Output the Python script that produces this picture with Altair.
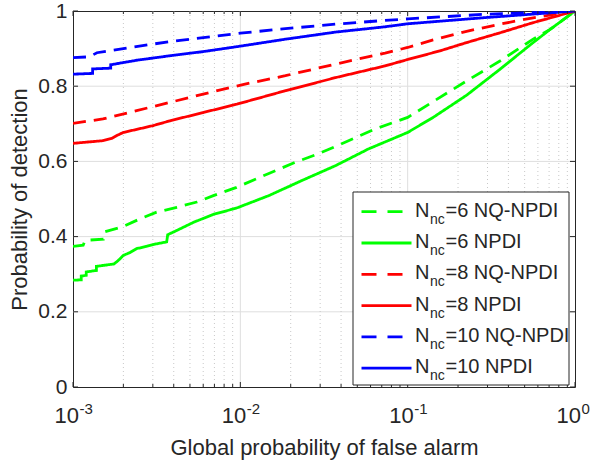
import altair as alt
import pandas as pd

# ---------------- data ----------------
series_names = ["Nnc=6 NQ-NPDI", "Nnc=6 NPDI", "Nnc=8 NQ-NPDI",
                "Nnc=8 NPDI", "Nnc=10 NQ-NPDI", "Nnc=10 NPDI"]
series_nums = ["6", "6", "8", "8", "10", "10"]
series_methods = ["NQ-NPDI", "NPDI", "NQ-NPDI", "NPDI", "NQ-NPDI", "NPDI"]
series_colors = ["#00ff00", "#00ff00", "#ff0000", "#ff0000", "#0000ff", "#0000ff"]
series_dashed = [True, False, True, False, True, False]

g6q_x = [0.001, 0.00115, 0.00118, 0.00152, 0.00155, 0.002, 0.00251, 0.00316, 0.00417,
         0.0055, 0.0069, 0.0095, 0.0148, 0.0214, 0.0292, 0.0423, 0.0638, 0.1, 0.142,
         0.225, 0.356, 0.562, 0.71, 1.0]
g6q_y = [0.374, 0.377, 0.390, 0.393, 0.413, 0.427, 0.447, 0.465, 0.478, 0.492, 0.509,
         0.531, 0.568, 0.598, 0.620, 0.651, 0.686, 0.717, 0.759, 0.814, 0.867, 0.925,
         0.951, 1.0]

g6_x = [0.001, 0.00112, 0.00112, 0.0012, 0.0012, 0.00138, 0.00138, 0.00175, 0.00185,
        0.002, 0.0022, 0.0024, 0.00275, 0.0031, 0.00363, 0.00368, 0.00425, 0.00525,
        0.0069, 0.0095, 0.0148, 0.0233, 0.0372, 0.0582, 0.1, 0.142, 0.225, 0.356,
        0.562, 0.71, 1.0]
g6_y = [0.284, 0.285, 0.295, 0.297, 0.306, 0.310, 0.321, 0.327, 0.335, 0.350, 0.358,
        0.368, 0.374, 0.380, 0.386, 0.405, 0.418, 0.438, 0.459, 0.476, 0.509, 0.549,
        0.589, 0.633, 0.677, 0.717, 0.776, 0.845, 0.916, 0.951, 1.0]

r8q_x = [0.001, 0.00151, 0.0024, 0.0038, 0.006, 0.0105, 0.0186, 0.0372, 0.0733, 0.1,
         0.142, 0.225, 0.356, 0.562, 1.0]
r8q_y = [0.701, 0.713, 0.735, 0.757, 0.779, 0.805, 0.828, 0.859, 0.888, 0.903, 0.923,
         0.946, 0.965, 0.982, 1.0]

r8_x = [0.001, 0.0015, 0.0017, 0.00185, 0.002, 0.003, 0.0038, 0.006, 0.0095, 0.0186,
        0.0372, 0.0733, 0.1, 0.156, 0.225, 0.356, 0.562, 1.0]
r8_y = [0.648, 0.655, 0.661, 0.670, 0.677, 0.695, 0.708, 0.730, 0.752, 0.788, 0.823,
        0.854, 0.871, 0.894, 0.916, 0.942, 0.969, 1.0]

b10q_x = [0.001, 0.00125, 0.00139, 0.002, 0.003, 0.00437, 0.006, 0.01, 0.0186, 0.0372,
          0.0733, 0.1, 0.282, 1.0]
b10q_y = [0.876, 0.878, 0.889, 0.900, 0.912, 0.922, 0.929, 0.941, 0.953, 0.965, 0.975,
          0.979, 0.991, 1.0]

b10_x = [0.001, 0.00131, 0.00131, 0.00168, 0.00168, 0.0024, 0.0038, 0.006, 0.0095,
         0.0186, 0.0372, 0.0733, 0.1, 0.282, 1.0]
b10_y = [0.832, 0.834, 0.846, 0.848, 0.857, 0.869, 0.881, 0.892, 0.905, 0.925, 0.944,
         0.958, 0.966, 0.982, 1.0]

series_x = [g6q_x, g6_x, r8q_x, r8_x, b10q_x, b10_x]
series_y = [g6q_y, g6_y, r8q_y, r8_y, b10q_y, b10_y]

y_ticks = [0, 0.2, 0.4, 0.6, 0.8, 1.0]
x_major = [0.001, 0.01, 0.1, 1.0]
x_exps = ["-3", "-2", "-1", "0"]
x_minor = [m * d for d in [0.001, 0.01, 0.1] for m in range(2, 10)]

x_title = "Global probability of false alarm"
y_title = "Probability of detection"

# ---------------- build tables ----------------
rows = []
for s, (xs, ys) in enumerate(zip(series_x, series_y)):
    for i, (xv, yv) in enumerate(zip(xs, ys)):
        rows.append({"series": series_names[s], "pfa": xv, "pd": yv, "i": i})
df = pd.DataFrame(rows)

W, H = 502, 376
FONT = "Liberation Sans"
TXT = "#262626"
XS = alt.Scale(type="log", domain=[0.001, 1], nice=False)
YS = alt.Scale(domain=[0, 1], nice=False)
X_AXIS = alt.Axis(labels=False, ticks=False, domain=False, grid=False,
                  title=x_title, titleFont=FONT, titleFontSize=22,
                  titleFontWeight="normal", titleColor=TXT, titlePadding=50)
Y_AXIS = alt.Axis(values=y_ticks, format=".1~f", ticks=False, domain=False,
                  grid=False, labelFont=FONT, labelFontSize=21,
                  labelColor=TXT, labelPadding=6, title=y_title,
                  titleFont=FONT, titleFontSize=22, titleFontWeight="normal",
                  titleColor=TXT, titlePadding=6)
color_scale = alt.Scale(domain=series_names, range=series_colors)
dash_scale = alt.Scale(domain=series_names,
                       range=[[13, 8] if d else [1, 0] for d in series_dashed])


def X(field):
    return alt.X(field, scale=XS, axis=X_AXIS, title=x_title)


def Y(field):
    return alt.Y(field, scale=YS, axis=Y_AXIS, title=y_title)


ymaj_df = pd.DataFrame({"v": y_ticks})
ygrid_df = pd.DataFrame({"v": y_ticks[1:-1]})
xmaj_df = pd.DataFrame({"v": x_major})
xgrid_df = pd.DataFrame({"v": x_major[1:-1]})
xmin_df = pd.DataFrame({"v": x_minor})
xlab_df = pd.DataFrame({"v": x_major, "base": ["10"] * 4, "e": x_exps})

# grid
ygrid = alt.Chart(ygrid_df).mark_rule(color="#dedede", strokeWidth=1).encode(
    y=Y("v:Q"), x=alt.value(0), x2=alt.value(W))
xgrid = alt.Chart(xgrid_df).mark_rule(color="#dedede", strokeWidth=1).encode(
    x=X("v:Q"), y=alt.value(0), y2=alt.value(H))
xmgrid = alt.Chart(xmin_df).mark_rule(color="#c8c8c8", strokeWidth=1,
                                      strokeDash=[1, 3]).encode(
    x=X("v:Q"), y=alt.value(0), y2=alt.value(H))

# data lines
lines = alt.Chart(df).mark_line(strokeWidth=2.8, clip=True).encode(
    x=X("pfa:Q"),
    y=Y("pd:Q"),
    color=alt.Color("series:N", scale=color_scale, legend=None),
    strokeDash=alt.StrokeDash("series:N", scale=dash_scale, legend=None),
    order=alt.Order("i:Q"),
)

# inward ticks on all four sides
tick_layers = [
    alt.Chart(ymaj_df).mark_rule(color=TXT).encode(
        y=Y("v:Q"), x=alt.value(0), x2=alt.value(5)),
    alt.Chart(ymaj_df).mark_rule(color=TXT).encode(
        y=Y("v:Q"), x=alt.value(W - 5), x2=alt.value(W)),
    alt.Chart(xmaj_df).mark_rule(color=TXT).encode(
        x=X("v:Q"), y=alt.value(H - 5), y2=alt.value(H)),
    alt.Chart(xmaj_df).mark_rule(color=TXT).encode(
        x=X("v:Q"), y=alt.value(0), y2=alt.value(5)),
    alt.Chart(xmin_df).mark_rule(color=TXT).encode(
        x=X("v:Q"), y=alt.value(H - 3), y2=alt.value(H)),
    alt.Chart(xmin_df).mark_rule(color=TXT).encode(
        x=X("v:Q"), y=alt.value(0), y2=alt.value(3)),
]

# x tick labels 10^k
xlab_base = alt.Chart(xlab_df).mark_text(
    align="right", baseline="alphabetic", font=FONT, fontSize=22, color=TXT, dx=6
).encode(x=X("v:Q"), y=alt.value(H + 36), text="base:N")
xlab_exp = alt.Chart(xlab_df).mark_text(
    align="left", baseline="alphabetic", font=FONT, fontSize=15, color=TXT, dx=6.5
).encode(x=X("v:Q"), y=alt.value(H + 27), text="e:N")

# legend (drawn manually for the subscript)
one = pd.DataFrame({"k": [0]})
LX0, LX1, LY0, LY1 = 280, 496, 181, 374
legend_layers = [
    alt.Chart(one).mark_rect(fill="white", stroke=TXT, strokeWidth=1).encode(
        x=alt.value(LX0), x2=alt.value(LX1), y=alt.value(LY0), y2=alt.value(LY1))
]
for r in range(6):
    ly = 200.7 + r * 31.3
    legend_layers.append(
        alt.Chart(one).mark_rule(
            color=series_colors[r], strokeWidth=2.8,
            strokeDash=[15, 11] if series_dashed[r] else [1, 0]
        ).encode(x=alt.value(288.5), x2=alt.value(338.5), y=alt.value(ly)))
    legend_layers.append(
        alt.Chart(one).mark_text(align="left", baseline="middle", font=FONT,
                                 fontSize=20, color=TXT
                                 ).encode(x=alt.value(342), y=alt.value(ly - 1),
                                          text=alt.value("N")))
    legend_layers.append(
        alt.Chart(one).mark_text(align="left", baseline="middle", font=FONT,
                                 fontSize=14, color=TXT
                                 ).encode(x=alt.value(357), y=alt.value(ly + 8),
                                          text=alt.value("nc")))
    legend_layers.append(
        alt.Chart(one).mark_text(align="left", baseline="middle", font=FONT,
                                 fontSize=20, color=TXT
                                 ).encode(x=alt.value(372.5), y=alt.value(ly - 1),
                                          text=alt.value("=" + series_nums[r] + " "
                                                         + series_methods[r])))

chart = alt.layer(
    ygrid, xgrid, xmgrid, lines, *tick_layers, xlab_base, xlab_exp, *legend_layers
).properties(
    width=W, height=H,
    autosize=alt.AutoSizeParams(type="none"),
    padding={"left": 73, "top": 11, "right": 17, "bottom": 74},
    background="white",
).configure_view(stroke=TXT, strokeWidth=1)

chart.save("out.html", embed_options={"renderer": "svg", "actions": False})
